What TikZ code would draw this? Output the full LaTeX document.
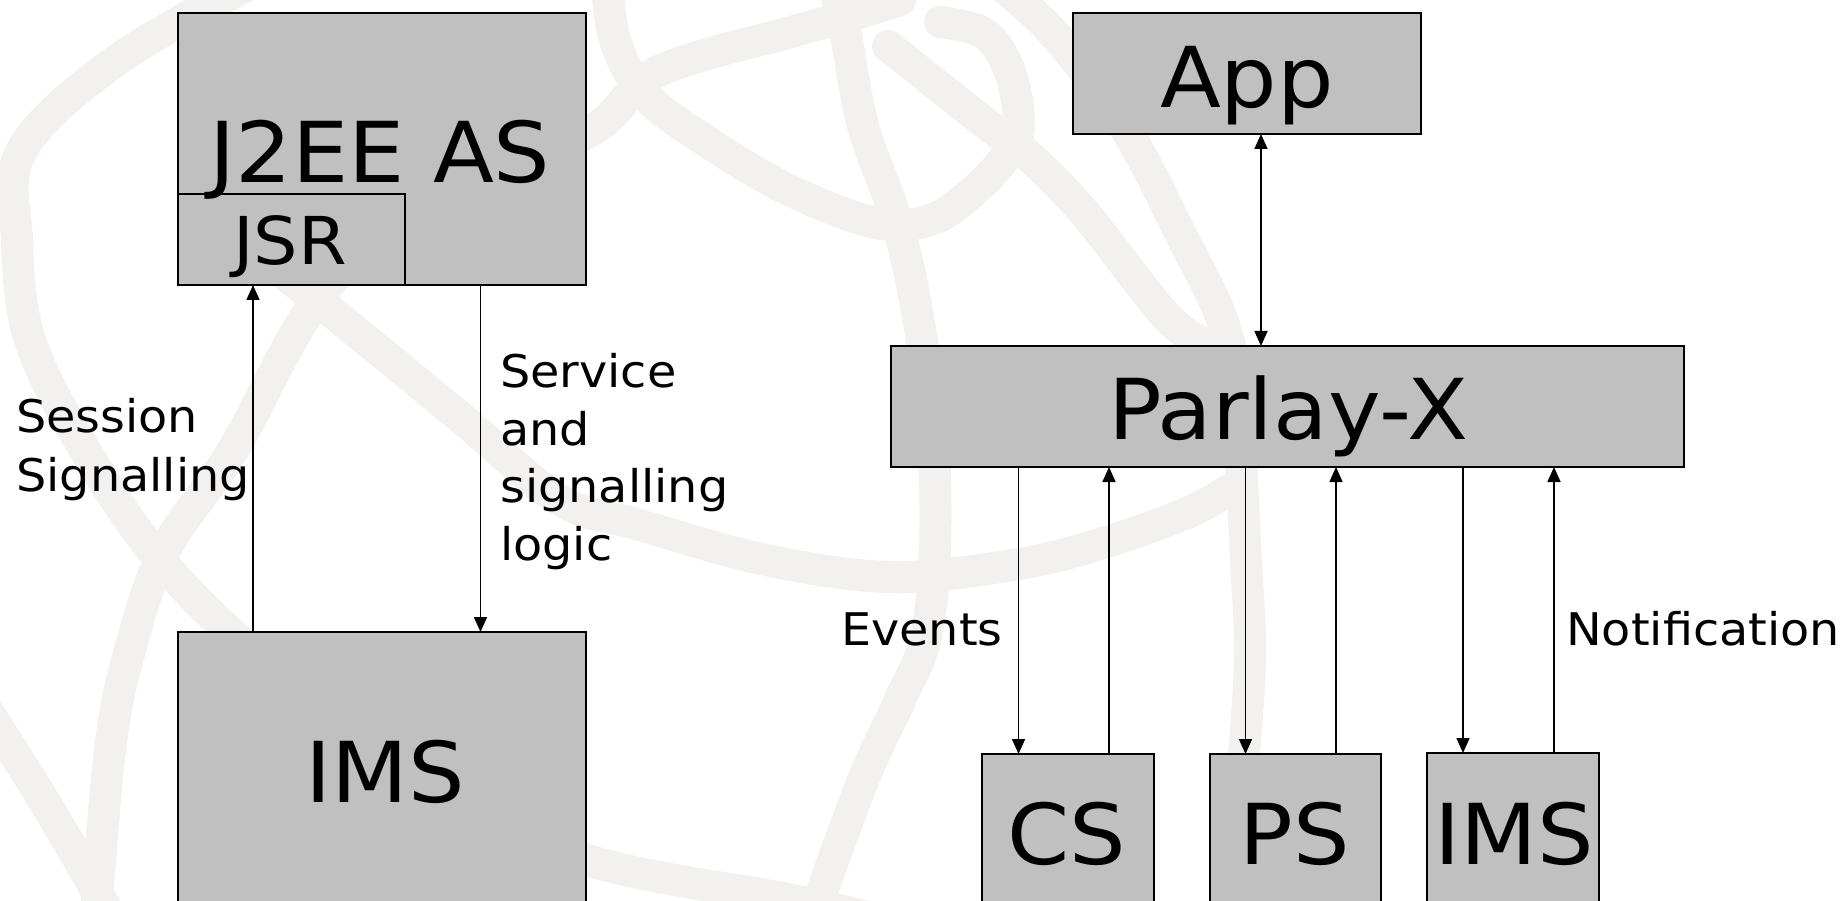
\documentclass[tikz,border=0pt]{standalone}
\usepackage{fontspec}
\setmainfont{DejaVu Sans}[FakeStretch=1.06]
\usetikzlibrary{arrows.meta}
\definecolor{boxgray}{RGB}{192,192,192}
\definecolor{wm}{RGB}{242,241,239}
\begin{document}
\begin{tikzpicture}[x=1pt,y=-1pt,
  box/.style={draw=black, line width=2pt, fill=boxgray, rectangle, inner sep=0pt, outer sep=0pt, anchor=north west},
  bigtext/.style={font=\fontsize{84}{100}\selectfont, inner sep=0pt, anchor=base},
  midtext/.style={font=\fontsize{66}{78}\selectfont, inner sep=0pt, anchor=base},
  lbl/.style={font=\fontsize{45}{56}\selectfont, inner sep=0pt, anchor=base west},
  arr/.style={line width=1.6pt, -{Triangle[length=15pt,width=13pt]}},
  darr/.style={line width=1.6pt, {Triangle[length=15pt,width=13pt]}-{Triangle[length=15pt,width=13pt]}},
  wmband/.style={draw=wm, line width=32pt, line cap=round, line join=round}
]
\useasboundingbox (0,0) rectangle (1845,901);
\clip (0,0) rectangle (1845,901);
\fill[white] (0,0) rectangle (1845,901);

% watermark globe
\draw[wmband] plot[smooth, tension=0.6] coordinates {(257,-20) (117,60) (22,150) (17,240) (30,340) (85,450) (160,560) (260,660) (400,780) (587,860) (793,900) (900,925)};
\draw[wmband] plot[smooth, tension=0.6] coordinates {(95,930) (110,750) (130,650) (165,550) (233,450) (317,300) (420,200) (587,133) (657,72) (791,32) (846,17) (900,0)};
\draw[wmband] plot[smooth, tension=0.6] coordinates {(240,240) (317,300) (460,417) (560,500) (640,525) (766,560) (893,577) (1019,564) (1103,543) (1187,513) (1229,490)};
\draw[wmband] plot[smooth, tension=0.6] coordinates {(834,-15) (845,30) (863,126) (893,210) (914,295) (932,421) (935,550) (925,640) (900,700) (862,783) (810,925)};
\draw[wmband] plot[smooth, tension=0.6] coordinates {(607,-20) (615,40) (645,95) (703,139) (787,189) (876,223) (933,219) (976,189) (1006,156) (1019,126) (1010,72) (985,34) (940,22)};
\draw[wmband] plot[smooth, tension=0.6] coordinates {(1000,-15) (1019,0) (1061,42) (1124,126) (1179,231) (1225,328) (1238,420) (1246,560) (1250,660) (1242,780) (1232,925)};
\draw[wmband] plot[smooth, tension=0.6] coordinates {(888,46) (989,126) (1019,147) (1082,210) (1166,316) (1208,345)};
\draw[wmband] plot[smooth, tension=0.6] coordinates {(-20,700) (33,783) (83,867) (115,925)};

% boxes
\node[box, minimum width=408pt, minimum height=272pt] (j2ee) at (178,13) {};
\node[box, line width=1.5pt, minimum width=227pt, minimum height=91pt] (jsr) at (178,194) {};
\node[box, minimum width=408pt, minimum height=300pt] (imsL) at (178,632) {};
\node[box, minimum width=348pt, minimum height=121pt] (app) at (1073,13) {};
\node[box, minimum width=793pt, minimum height=121pt] (parlay) at (891,346) {};
\node[box, minimum width=172pt, minimum height=180pt] (cs) at (982,754) {};
\node[box, minimum width=171pt, minimum height=180pt] (ps) at (1210,754) {};
\node[box, minimum width=172pt, minimum height=180pt] (imsR) at (1427,753) {};

% box texts
\node[bigtext] (tj2ee) at (380,182.5) {J2EE AS};
\node[midtext] (tjsr) at (290,265) {JSR};
\node[bigtext] (timsL) at (385,802) {IMS};
\node[bigtext] (tapp) at (1247,108) {App};
\node[bigtext] (tparlay) at (1288,439) {Parlay-X};
\node[bigtext] (tcs) at (1067,864) {CS};
\node[bigtext] (tps) at (1295,864) {PS};
\node[bigtext] (timsR) at (1514,864) {IMS};

% connector x positions
\coordinate (xa) at (253,0);
\coordinate (xb) at (480.5,0);
\coordinate (xc) at (1261,0);
\coordinate (xcs1) at (1018.5,0);
\coordinate (xcs2) at (1109,0);
\coordinate (xps1) at (1245.5,0);
\coordinate (xps2) at (1336,0);
\coordinate (xim1) at (1463,0);
\coordinate (xim2) at (1554,0);

% connectors
\draw[arr] (imsL.north -| xa) -- (jsr.south -| xa);
\draw[arr] (j2ee.south -| xb) -- (imsL.north -| xb);
\draw[darr] (app.south -| xc) -- (parlay.north -| xc);
\draw[arr] (parlay.south -| xcs1) -- (cs.north -| xcs1);
\draw[arr] (cs.north -| xcs2) -- (parlay.south -| xcs2);
\draw[arr] (parlay.south -| xps1) -- (ps.north -| xps1);
\draw[arr] (ps.north -| xps2) -- (parlay.south -| xps2);
\draw[arr] (parlay.south -| xim1) -- (imsR.north -| xim1);
\draw[arr] (imsR.north -| xim2) -- (parlay.south -| xim2);

% labels
\node[lbl] (sess1) at (16,432) {Session};
\node[lbl] (sess2) at (16,491) {Signalling};
\node[lbl] (serv1) at (500,387.5) {Service};
\node[lbl] (serv2) at (500,445) {and};
\node[lbl] (serv3) at (500,502) {signalling};
\node[lbl] (serv4) at (500,560) {logic};
\node[lbl] (events) at (841,645) {Events};
\node[lbl] (notif) at (1566,645) {Notification};
\end{tikzpicture}
\end{document}
